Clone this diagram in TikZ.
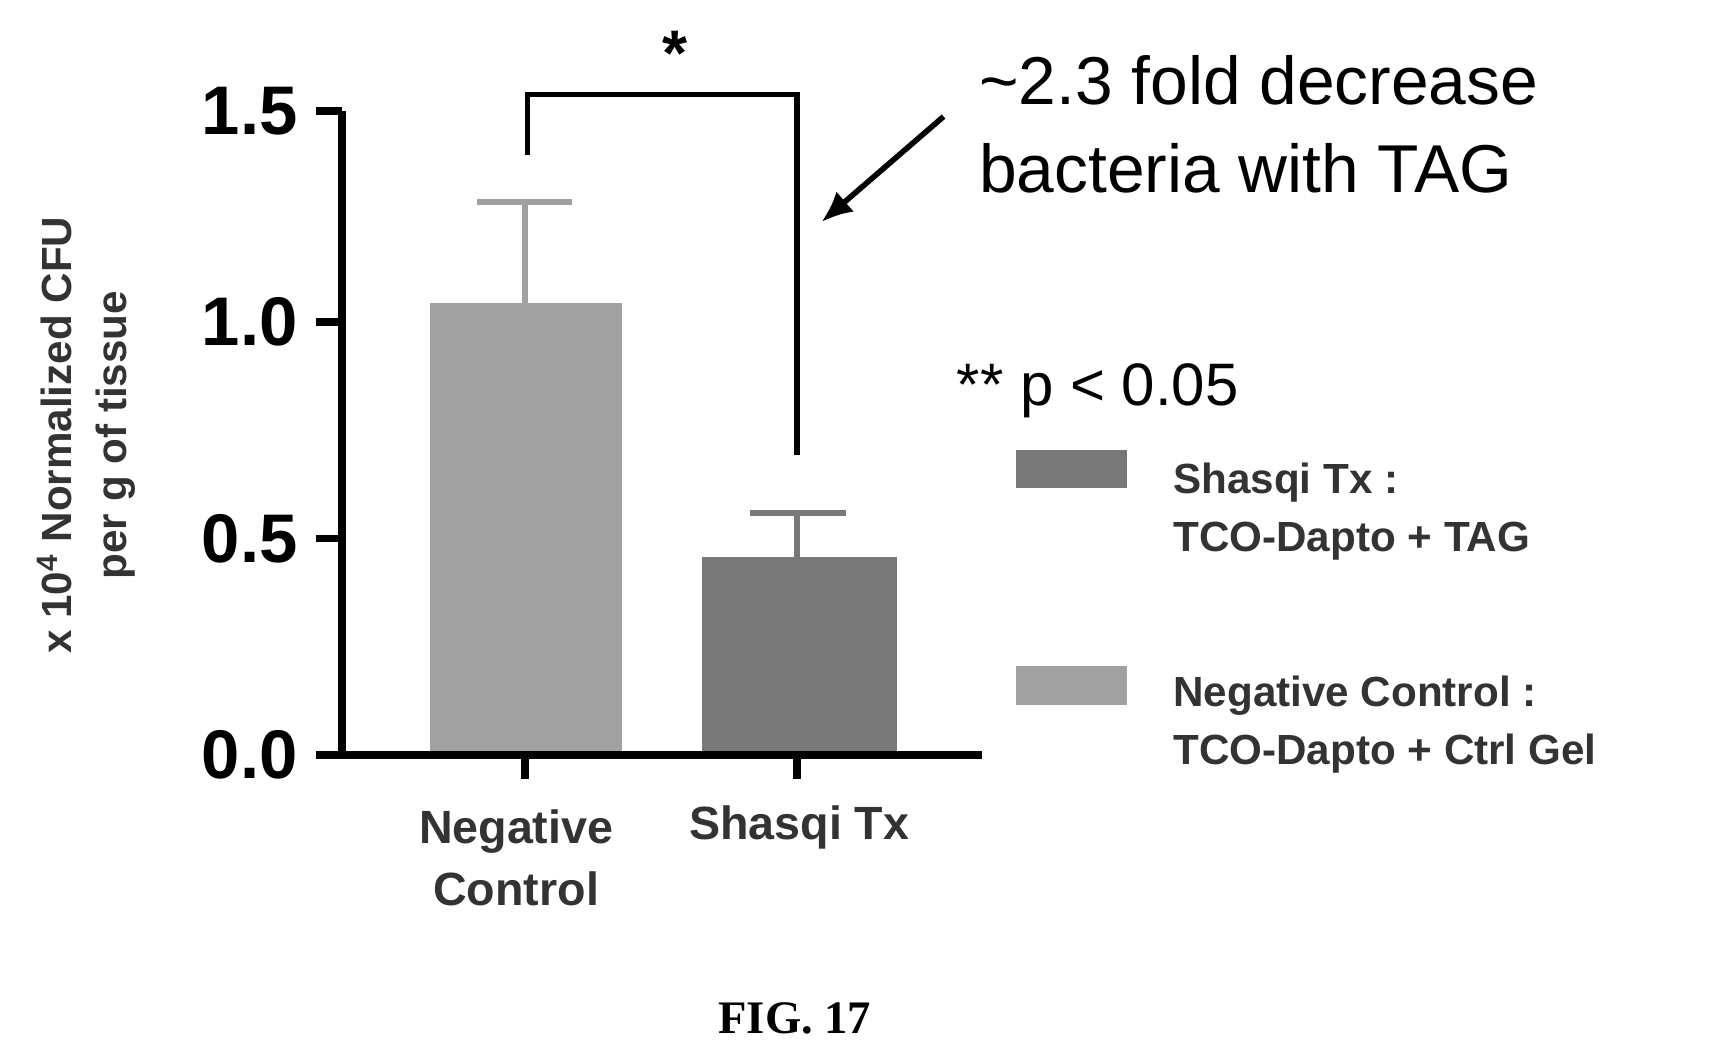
\documentclass[tikz,border=0pt]{standalone}
\usepackage{fontspec}
\setmainfont{Liberation Sans}
\newfontfamily\serifb{Liberation Serif}
\usetikzlibrary{arrows.meta}
\definecolor{barlight}{gray}{0.63}
\definecolor{bardark}{gray}{0.47}
\tikzset{axis/.style={line width=3.5pt},
 ebar/.style={line width=2.5pt,draw=bardark},
 brk/.style={line width=2.5pt},
 tick/.style={font=\bfseries\fontsize{31}{31}\selectfont,anchor=east},
 lab/.style={font=\bfseries\fontsize{19}{22}\selectfont,text=black!80},
 big/.style={font=\fontsize{29}{34}\selectfont,anchor=west}}
\begin{document}
\begin{tikzpicture}[x=0.5pt,y=-0.5pt]
\useasboundingbox (0,0) rectangle (1563,950);
% bars
\fill[barlight] (387,273) rectangle (560,680);
\fill[bardark] (632,502) rectangle (808,680);
\draw[ebar,draw=barlight] (473,273) -- (473,182) (430,182) -- (515,182);
\draw[ebar] (718,502) -- (718,462) (676,462) -- (762,462);
% axes
\coordinate (o) at (308,680);
\draw[axis] (308,100) -- (o) -- (885,680);
\foreach \y/\t in {100/1.5,290/1.0,485/0.5,680/0.0}{
  \draw[axis] (285,\y) -- (308,\y);
  \node[tick] (t\t) at (275,\y) {\t};}
\draw[axis] (473,680) -- (473,702) (718,680) -- (718,702);
\node[lab,align=center,font=\bfseries\fontsize{21}{28}\selectfont] (xl1) at (465,773) {Negative\\Control};
\node[lab,font=\bfseries\fontsize{21}{28}\selectfont] (xl2) at (720,745) {Shasqi Tx};
\node[lab,rotate=90,align=center,font=\bfseries\fontsize{19}{25}\selectfont] (yl) at (78,392) {x 10\textsuperscript{4} Normalized CFU\\per g of tissue};
% bracket
\draw[brk] (475,140) -- (475,85) -- (718,85) -- (718,410);
\node[font=\bfseries\fontsize{29}{29}\selectfont] (star) at (608,48) {*};
\node[big,align=left,font=\fontsize{30.5}{40}\selectfont] (ann) at (875,112) {\textasciitilde2.3 fold decrease\\bacteria with TAG};
\coordinate (ah) at (740,200);
\draw[brk,-{Latex[length=14pt,width=12pt]}] (850,105) -- (ah);
\node[big,font=\fontsize{27}{27}\selectfont] (p) at (855,352) {** p < 0.05};
% legend
\fill[bardark] (915,405) rectangle (1015,440);
\fill[barlight] (915,600) rectangle (1015,635);
\node[lab,anchor=west,align=left,font=\bfseries\fontsize{19}{26}\selectfont] (l1) at (1050,461) {Shasqi Tx :\\TCO-Dapto + TAG};
\node[lab,anchor=west,align=left,font=\bfseries\fontsize{19}{26}\selectfont] (l2) at (1050,653) {Negative Control :\\TCO-Dapto + Ctrl Gel};
\node[font=\serifb\bfseries\fontsize{21}{21}\selectfont] (fig) at (716,917) {FIG. 17};
\end{tikzpicture}
\end{document}
